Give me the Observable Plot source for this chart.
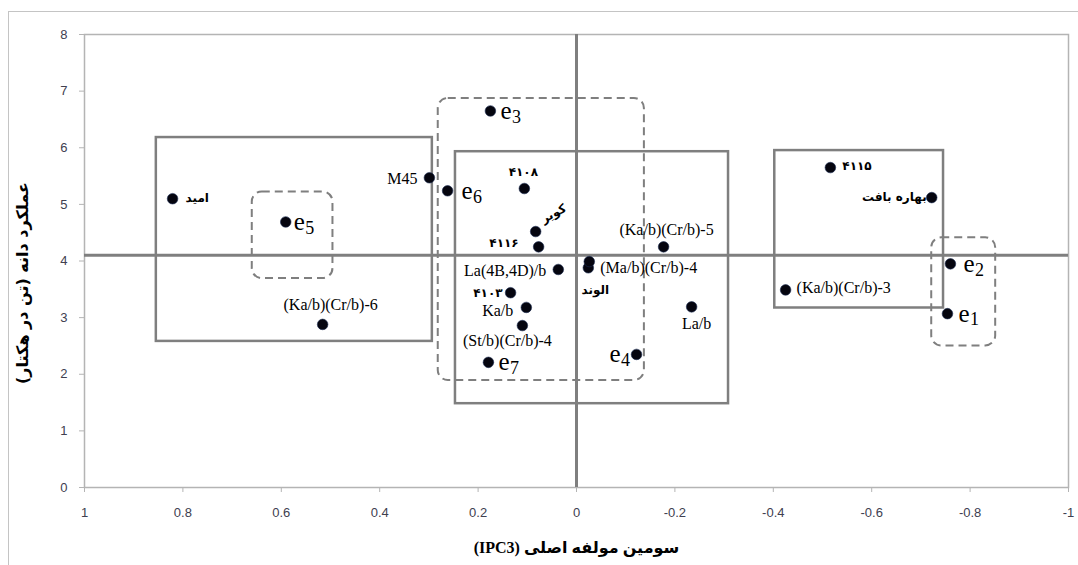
<!DOCTYPE html>
<html>
<head>
<meta charset="utf-8">
<script src="https://cdn.jsdelivr.net/npm/d3@7"></script>
<script src="https://cdn.jsdelivr.net/npm/@observablehq/plot@0.6"></script>
<style>
  html, body { margin: 0; padding: 0; background: #fff; }
  #wrap { position: relative; width: 1078px; height: 565px; overflow: hidden; }
  #border { position: absolute; left: 8px; top: 11px; width: 1200px; height: 700px;
            border-left: 1.5px solid #c4c4c4; border-top: 1.5px solid #c4c4c4; pointer-events: none; z-index: 2; }
</style>
</head>
<body>
<div id="wrap"><div id="border"></div></div>
<script>
// ---- data ----
const genotypes = ["امید", "(Ka/b)(Cr/b)-6", "M45", "۴۱۰۸", "کویر", "۴۱۱۶", "La(4B,4D)/b", "۴۱۰۳", "Ka/b",
  "(St/b)(Cr/b)-4", "الوند", "(Ma/b)(Cr/b)-4", "(Ka/b)(Cr/b)-5", "La/b", "۴۱۱۵", "بهاره بافت", "(Ka/b)(Cr/b)-3"];
const genoIPC3 = [0.821, 0.516, 0.299, 0.106, 0.083, 0.077, 0.037, 0.134, 0.102,
  0.110, -0.024, -0.026, -0.177, -0.234, -0.516, -0.722, -0.425];
const genoYield = [5.10, 2.88, 5.47, 5.28, 4.52, 4.25, 3.85, 3.44, 3.18,
  2.86, 3.88, 3.99, 4.25, 3.19, 5.65, 5.12, 3.49];

const envNames = ["e1", "e2", "e3", "e4", "e5", "e6", "e7"];
const envIPC3 = [-0.754, -0.760, 0.175, -0.122, 0.591, 0.262, 0.179];
const envYield = [3.07, 3.95, 6.65, 2.35, 4.69, 5.24, 2.21];

// solid grouping boxes
const boxX1 = [0.854, 0.246, -0.403];
const boxX2 = [0.293, -0.309, -0.746];
const boxY1 = [2.58, 1.48, 3.17];
const boxY2 = [6.18, 5.93, 5.95];

// dashed (rounded) environment boxes
const dashX1 = [0.281, 0.659, -0.722];
const dashX2 = [-0.138, 0.495, -0.852];
const dashY1 = [1.89, 3.69, 2.50];
const dashY2 = [6.87, 5.22, 4.41];

const meanYield = 4.1;

const xTickValues = [1, 0.8, 0.6, 0.4, 0.2, 0, -0.2, -0.4, -0.6, -0.8, -1];
const xTickLabels = ["1", "0.8", "0.6", "0.4", "0.2", "0", "-0.2", "-0.4", "-0.6", "-0.8", "-1"];
const yTickValues = [0, 1, 2, 3, 4, 5, 6, 7, 8];
const yTickLabels = ["0", "1", "2", "3", "4", "5", "6", "7", "8"];

const xTitle = "سومین مولفه اصلی (IPC3)";
const yTitle = "عملکرد دانه (تن در هکتار)";

// ---- label placement (styling) ----
const labelStyle = {
  "امید": {dx: 13, dy: -1, anchor: "start", fa: true},
  "(Ka/b)(Cr/b)-6": {dx: 8, dy: -20, anchor: "middle"},
  "M45": {dx: -12, dy: 1, anchor: "end"},
  "۴۱۰۸": {dx: -1, dy: -16, anchor: "middle", fa: true},
  "کویر": {dx: 18, dy: -18, anchor: "middle", fa: true, rotate: -28},
  "۴۱۱۶": {dx: -20, dy: -4, anchor: "end", fa: true},
  "La(4B,4D)/b": {dx: -12, dy: 1, anchor: "end"},
  "۴۱۰۳": {dx: -8, dy: 0, anchor: "end", fa: true},
  "Ka/b": {dx: -13, dy: 3, anchor: "end"},
  "(St/b)(Cr/b)-4": {dx: -15, dy: 15, anchor: "middle"},
  "الوند": {dx: 7, dy: 22, anchor: "middle", fa: true},
  "(Ma/b)(Cr/b)-4": {dx: 11, dy: 6, anchor: "start"},
  "(Ka/b)(Cr/b)-5": {dx: 3, dy: -17, anchor: "middle"},
  "La/b": {dx: 5, dy: 17, anchor: "middle"},
  "۴۱۱۵": {dx: 12, dy: -1, anchor: "start", fa: true},
  "بهاره بافت": {dx: -5, dy: 0, anchor: "end", fa: true},
  "(Ka/b)(Cr/b)-3": {dx: 11, dy: -2, anchor: "start"}
};
const envStyle = {
  e1: {dx: 11}, e2: {dx: 13}, e3: {dx: 10}, e4: {dx: -27},
  e5: {dx: 8}, e6: {dx: 14}, e7: {dx: 10}
};

const geno = genotypes.map((n, i) => ({name: n, x: genoIPC3[i], y: genoYield[i]}));
const env = envNames.map((n, i) => ({name: n, x: envIPC3[i], y: envYield[i]}));
const boxes = boxX1.map((v, i) => ({x1: v, x2: boxX2[i], y1: boxY1[i], y2: boxY2[i]}));
const dashes = dashX1.map((v, i) => ({x1: v, x2: dashX2[i], y1: dashY1[i], y2: dashY2[i]}));

const serif = "'Liberation Serif', 'Times New Roman', 'DejaVu Sans', serif";
const farsi = "'DejaVu Sans', sans-serif";
const gray = "#7f7f7f";
const rtl = s => "\u202B" + s + "\u202C";

const labelMarks = geno.map(d => {
  const s = labelStyle[d.name];
  return Plot.text([d], {
    x: "x", y: "y", text: "name",
    dx: s.dx, dy: s.dy, textAnchor: s.anchor, rotate: s.rotate || 0,
    fontFamily: s.fa ? farsi : serif,
    fontSize: s.fa ? 12 : 16,
    fontWeight: s.fa ? "bold" : "normal",
    fill: "#000"
  });
});
const envMarks = env.flatMap(d => {
  const s = envStyle[d.name];
  return [
    Plot.text([d], {x: "x", y: "y", text: () => "e", dx: s.dx, dy: 0, textAnchor: "start",
      fontFamily: serif, fontSize: 25, fill: "#000"}),
    Plot.text([d], {x: "x", y: "y", text: d2 => d2.name.slice(1), dx: s.dx + 11.5, dy: 6, textAnchor: "start",
      fontFamily: serif, fontSize: 18, fill: "#000"})
  ];
});

const chart = Plot.plot({
  width: 1078,
  height: 565,
  marginLeft: 84,
  marginRight: 10,
  marginTop: 34,
  marginBottom: 78,
  style: {background: "transparent", overflow: "visible"},
  x: {domain: [1, -1]},
  y: {domain: [0, 8]},
  marks: [
    Plot.frame({stroke: "#b4b4b4", strokeWidth: 1.5}),
    Plot.axisX({ticks: xTickValues, tickFormat: d => xTickLabels[xTickValues.indexOf(d)],
      tickSize: 5, tickPadding: 15, stroke: "#b4b4b4", fill: "#404050",
      fontFamily: "'Liberation Sans', Arial, sans-serif", fontSize: 13, label: null}),
    Plot.axisY({ticks: yTickValues, tickFormat: d => yTickLabels[yTickValues.indexOf(d)],
      tickSize: 5, tickPadding: 12, stroke: "#b4b4b4", fill: "#404050",
      fontFamily: "'Liberation Sans', Arial, sans-serif", fontSize: 13, label: null}),
    Plot.rect(boxes, {x1: "x1", x2: "x2", y1: "y1", y2: "y2", fill: "none", stroke: gray, strokeWidth: 2.5}),
    Plot.rect(dashes, {x1: "x1", x2: "x2", y1: "y1", y2: "y2", fill: "none", stroke: gray,
      strokeWidth: 2, strokeDasharray: "8,5", rx: 10}),
    Plot.ruleX([0], {stroke: gray, strokeWidth: 3}),
    Plot.ruleY([meanYield], {stroke: gray, strokeWidth: 3}),
    Plot.dot(geno, {x: "x", y: "y", r: 5.3, fill: "#05050f", stroke: "#1a2a50", strokeWidth: 0.6}),
    Plot.dot(env, {x: "x", y: "y", r: 5.3, fill: "#05050f", stroke: "#1a2a50", strokeWidth: 0.6}),
    ...labelMarks,
    ...envMarks,
    Plot.text([xTitle], {text: d => rtl(d), frameAnchor: "bottom", textAnchor: "middle", lineAnchor: "middle",
      dy: 60, fontFamily: serif, fontWeight: "bold", fontSize: 16, fill: "#000"}),
    Plot.text([yTitle], {text: d => rtl(d), frameAnchor: "left", textAnchor: "middle", lineAnchor: "middle",
      rotate: -90, dx: -62, dy: 22, fontFamily: farsi, fontWeight: "bold", fontSize: 16, fill: "#000"})
  ]
});
document.getElementById("wrap").appendChild(chart);
</script>
</body>
</html>
